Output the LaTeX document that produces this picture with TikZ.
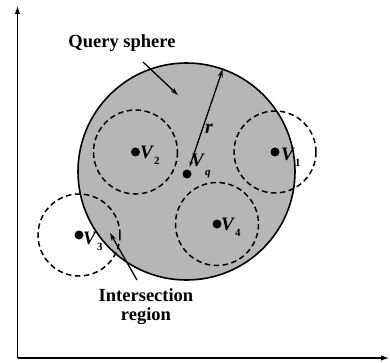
\documentclass[tikz,border=0pt]{standalone}
\usepackage{fontspec}
\setmainfont{Liberation Serif}
\usetikzlibrary{arrows.meta,calc}
\definecolor{spheregray}{RGB}{182,182,182}
\tikzset{
  axis/.style={line width=1.2pt,-{Latex[length=8pt,width=5.5pt]}},
  subbox/.style={draw,dashed,dash pattern=on 5.5pt off 3.5pt,line width=1.5pt},
  pt/.style={circle,fill=black,inner sep=0pt,minimum size=9pt},
  lbl/.style={font=\fontsize{18.5}{21}\selectfont\bfseries,inner sep=0pt},
  vlbl/.style={font=\fontsize{19}{20}\selectfont\bfseries,inner sep=0pt,anchor=west},
  pointer/.style={line width=1.3pt,-{Stealth[length=8pt,width=5pt]}}
}
\newcommand{\Vlab}[1]{\textit{V}\raisebox{-6pt}{\fontsize{11}{12}\selectfont #1}}
\begin{document}
\begin{tikzpicture}[x=1pt,y=-1pt]
\useasboundingbox (0,0) rectangle (390,363);
% axes
\coordinate (o) at (17.5,358);
\coordinate (ytop) at (17.5,6);
\coordinate (xend) at (389,358);
\draw[axis] (o) -- (ytop);
\draw[axis] (o) -- (xend);
% query sphere
\coordinate (c) at (186.5,171.5);
\fill[spheregray] (c) circle[radius=108.5];
% small dashed circles
\coordinate (c1) at (275,152);
\coordinate (c2) at (135.5,152);
\coordinate (c3) at (79,235);
\coordinate (c4) at (217,224);
\draw[subbox] (c1) circle[radius=41];
\draw[subbox] (c2) circle[radius=42];
\draw[subbox] (c3) circle[radius=41];
\draw[subbox] (c4) circle[radius=41.5];
\draw[line width=1.6pt] (c) circle[radius=108.5];
% points
\node[pt] (p1) at (c1) {};
\node[pt] (p2) at (c2) {};
\node[pt] (p3) at (c3) {};
\node[pt] (p4) at (c4) {};
\node[pt] (pq) at (187,174) {};
\node[vlbl] (l1) at (281,157) {\Vlab{1}};
\node[vlbl] (l2) at (140,155) {\Vlab{2}};
\node[vlbl] (l3) at (83,241) {\Vlab{3}};
\node[vlbl] (l4) at (221,227) {\Vlab{4}};
\node[vlbl] (lq) at (191,166) {\Vlab{\raisebox{-3pt}{\textit{q}}}};
% radius
\coordinate (rs) at (189.5,167);
\coordinate (re) at ($(c)+(-70.5:108.5)$);
\draw[line width=1.3pt,{Stealth[length=6pt,width=4pt]}-{Stealth[length=8pt,width=5pt]}] (rs) -- (re);
\node[lbl,font=\fontsize{20}{22}\selectfont\bfseries] (r) at (209,129) {\textit{r}};
% labels
\node[lbl] (qs) at (122,43) {Query sphere};
\coordinate (qa) at (178,95);
\coordinate (qt) at (143,62);
\draw[pointer] (qt) -- (qa);
\node[lbl] (is) at (146,295) {Intersection};
\node[lbl] (rg) at (146,316) {region};
\coordinate (ia) at (110,233);
\coordinate (it) at (137,280);
\draw[pointer] (it) -- (ia);
\end{tikzpicture}
\end{document}
